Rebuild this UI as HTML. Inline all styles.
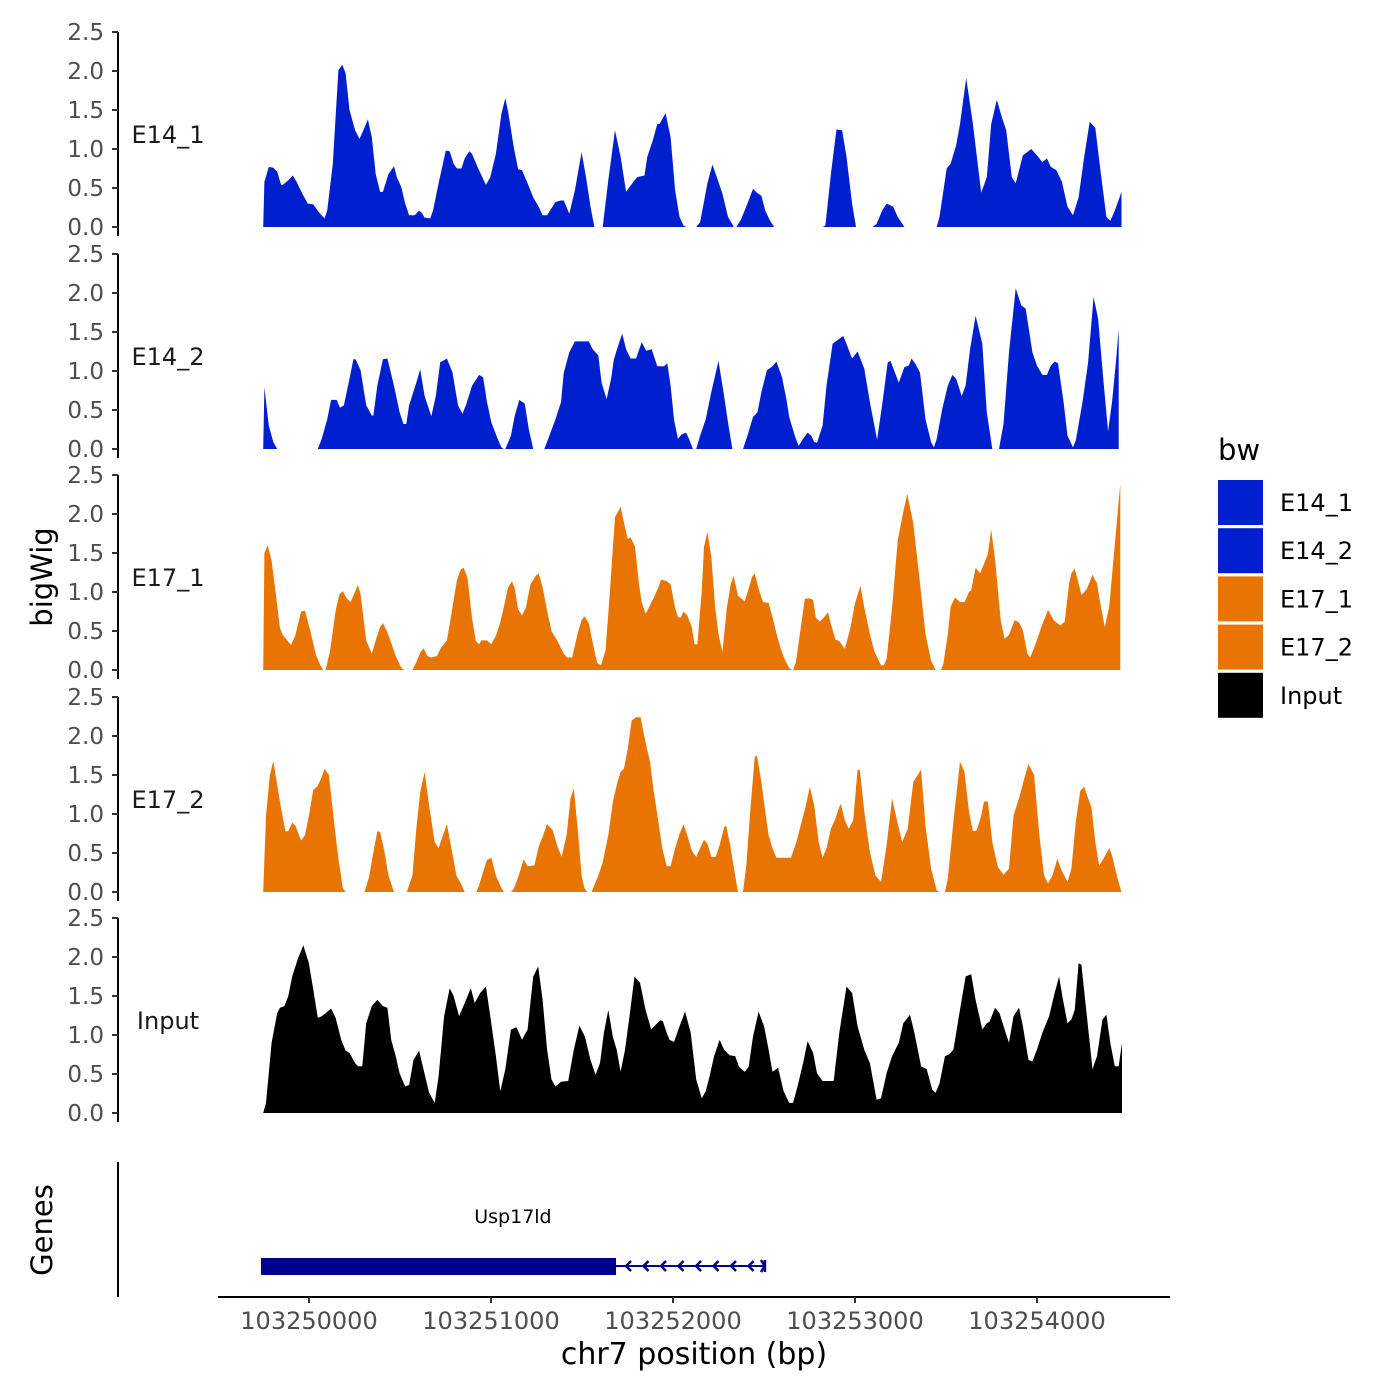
<!DOCTYPE html>
<html><head><meta charset="utf-8"><style>
html,body{margin:0;padding:0;background:#fff;}
svg{display:block;font-family:"DejaVu Sans","Liberation Sans",sans-serif;}
</style></head><body>
<svg id="chart" width="1400" height="1400" viewBox="0 0 1400 1400" xmlns="http://www.w3.org/2000/svg">
<rect width="1400" height="1400" fill="#fff"/>
<g id="panels"></g>
<g id="genes"></g>
<g id="xaxis"></g>
<text x="52" y="577" font-size="29" text-anchor="middle" transform="rotate(-90 52 577)">bigWig</text>
<text x="52" y="1230" font-size="29" text-anchor="middle" transform="rotate(-90 52 1230)">Genes</text>
<g id="legend"></g>
</svg>
<script>
// ---- data ----
const regionStart = 103249718; // bp of bin 0
const binSize = 3.058;         // bp per bin
const trackNames = ["E14_1","E14_2","E17_1","E17_2","Input"];
const yTicks = [0,0.5,1,1.5,2,2.5];
const xTicks = [103250000,103251000,103252000,103253000,103254000];
const gene = {name:"Usp17ld", start:103249736, thickEnd:103251687, end:103252505};

const e14_1 = [[10,0],[12,.58],[20,.77],[28,.76],[35,.71],[42,.54],[45,.54],[55,.60],[63,.66],[70,.58],[80,.43],[90,.30],[100,.29],[110,.19],[120,.11],[125,.21],[135,.81],[145,2.01],[152,2.08],[158,1.97],[165,1.50],[175,1.24],[183,1.13],[190,1.24],[198,1.38],[205,1.15],[212,.68],[220,.45],[225,.45],[235,.68],[245,.78],[250,.64],[258,.51],[265,.30],[272,.15],[282,.15],[290,.21],[295,.18],[300,.12],[310,.11],[315,.21],[325,.56],[338,.98],[345,.97],[352,.81],[358,.75],[366,.75],[372,.88],[380,.97],[385,.94],[395,.77],[410,.54],[418,.64],[428,.94],[438,1.45],[445,1.65],[450,1.48],[460,1.03],[468,.74],[475,.73],[485,.56],[495,.38],[505,.26],[512,.15],[520,.15],[528,.24],[535,.32],[545,.34],[550,.34],[560,.17],[570,.47],[582,.96],[590,.64],[598,.26],[605,0],null,
[620,0],[630,.60],[642,1.24],[652,.90],[662,.45],[675,.58],[682,.64],[695,.66],[700,.90],[710,1.11],[718,1.32],[722,1.32],[733,1.46],[742,1.15],[750,.47],[758,.13],[765,.02],[770,0],null,
[788,0],[795,.06],[808,.56],[817,.80],[825,.64],[835,.43],[845,.13],[855,.01],null,
[860,0],[868,.09],[880,.30],[890,.49],[897,.44],[905,.40],[912,.21],[920,.09],[928,0],null,
[1015,0],[1020,.02],[1030,.68],[1040,1.25],[1050,1.24],[1058,.90],[1068,.30],[1075,0],null,
[1105,0],[1112,.04],[1122,.21],[1130,.30],[1142,.26],[1150,.13],[1162,0],null,
[1220,0],[1225,.13],[1238,.75],[1245,.81],[1255,1.05],[1262,1.32],[1273,1.91],[1285,1.32],[1300,.44],[1310,.64],[1318,1.32],[1328,1.63],[1338,1.39],[1345,1.24],[1355,.64],[1362,.56],[1375,.92],[1390,1.00],[1400,.92],[1410,.83],[1418,.88],[1425,.77],[1435,.73],[1445,.58],[1455,.26],[1465,.15],[1475,.38],[1485,.90],[1495,1.35],[1505,1.27],[1515,.68],[1525,.13],[1532,.08],[1540,.21],[1552,.45]];

const e14_2 = [[10,0],[12,.79],[20,.30],[28,.09],[35,0],null,
[108,0],[115,.13],[125,.38],[132,.63],[142,.63],[148,.53],[155,.56],[165,.90],[172,1.15],[176,1.15],[185,1.01],[195,.56],[205,.43],[208,.43],[215,.81],[225,1.15],[233,1.16],[245,.81],[255,.47],[262,.32],[267,.32],[272,.56],[285,.85],[292,1.02],[300,.68],[312,.42],[320,.68],[328,1.11],[340,1.16],[350,.98],[360,.56],[368,.45],[375,.58],[385,.81],[398,.95],[405,.92],[412,.60],[420,.34],[430,.15],[438,.02],[442,0],null,
[445,0],[455,.17],[462,.43],[470,.63],[480,.58],[487,.26],[495,0],null,
[515,0],[522,.13],[535,.38],[545,.60],[550,.98],[560,1.24],[570,1.38],[595,1.38],[602,1.28],[612,1.20],[618,.85],[627,.64],[635,.90],[640,1.15],[647,1.31],[655,1.48],[662,1.28],[670,1.16],[680,1.16],[690,1.37],[698,1.26],[708,1.28],[718,1.06],[730,1.06],[736,1.10],[742,.81],[748,.38],[755,.13],[762,.19],[770,.21],[775,.13],[782,0],null,
[788,0],[795,.17],[805,.38],[815,.73],[828,1.13],[838,.68],[845,.34],[853,0],null,
[872,0],[880,.17],[890,.41],[898,.47],[905,.73],[915,1.01],[925,1.06],[932,1.12],[942,.92],[950,.64],[955,.41],[965,.17],[972,.04],[980,.13],[988,.21],[995,.17],[1000,.09],[1005,.08],[1015,.30],[1022,.81],[1033,1.35],[1052,1.45],[1060,1.31],[1068,1.16],[1078,1.25],[1090,1.03],[1100,.60],[1113,.12],[1122,.56],[1132,1.11],[1137,1.13],[1152,.85],[1162,1.05],[1170,1.07],[1175,1.16],[1182,1.09],[1190,.98],[1200,.38],[1210,.09],[1215,.02],[1220,.13],[1230,.51],[1240,.81],[1248,.95],[1255,.90],[1265,.68],[1272,.81],[1280,1.28],[1290,1.71],[1302,1.35],[1310,.47],[1320,0],null,
[1332,0],[1340,.32],[1350,1.24],[1362,2.06],[1372,1.84],[1380,1.80],[1392,1.24],[1400,1.07],[1410,.95],[1418,.95],[1425,1.07],[1432,1.12],[1438,1.10],[1448,.60],[1455,.17],[1465,.02],[1470,.11],[1482,.60],[1492,1.11],[1502,1.95],[1510,1.67],[1520,.85],[1528,.23],[1535,.60],[1542,1.11],[1547,1.54]];

const e17_1 = [[10,0],[12,1.50],[18,1.60],[25,1.40],[32,1.01],[40,.54],[45,.45],[52,.39],[60,.32],[68,.45],[78,.75],[85,.76],[95,.49],[105,.19],[112,.07],[118,0],null,
[122,0],[130,.24],[140,.76],[147,.97],[153,1.01],[160,.92],[167,.87],[180,1.09],[185,.97],[195,.38],[205,.21],[212,.38],[220,.55],[225,.60],[232,.50],[240,.35],[248,.18],[258,.03],[263,0],null,
[278,0],[285,.10],[292,.22],[298,.28],[305,.18],[312,.16],[322,.18],[330,.29],[340,.38],[348,.72],[358,1.15],[365,1.29],[370,1.31],[377,1.18],[385,.67],[392,.37],[398,.33],[402,.38],[412,.38],[420,.33],[428,.44],[435,.59],[442,.80],[450,1.06],[457,1.14],[462,1.04],[468,.78],[475,.70],[482,.80],[490,1.10],[500,1.21],[505,1.24],[512,1.06],[520,.76],[528,.50],[538,.38],[550,.21],[556,.16],[565,.16],[575,.47],[582,.64],[587,.69],[595,.60],[602,.35],[610,.09],[617,.06],[625,.25],[630,.72],[635,1.23],[642,1.96],[652,2.09],[660,1.83],[665,1.68],[670,1.70],[678,1.58],[685,1.11],[690,.87],[697,.72],[705,.83],[712,.93],[720,1.06],[725,1.16],[735,1.14],[742,1.10],[750,.80],[755,.68],[760,.67],[765,.75],[772,.70],[780,.55],[785,.33],[790,.33],[798,1.02],[802,1.58],[808,1.77],[815,1.45],[822,.80],[828,.46],[835,.23],[843,.80],[850,1.10],[855,1.21],[863,.95],[870,.91],[875,.88],[882,1.04],[888,1.19],[893,1.24],[900,1.04],[908,.87],[918,.86],[925,.68],[932,.47],[940,.27],[948,.12],[955,.03],[960,0],null,
[962,0],[967,.10],[975,.50],[983,.91],[990,.92],[998,.90],[1003,.67],[1010,.62],[1018,.68],[1025,.74],[1030,.59],[1038,.39],[1045,.37],[1055,.27],[1065,.54],[1073,.85],[1083,1.08],[1090,.80],[1100,.46],[1108,.24],[1120,.06],[1125,.06],[1130,.14],[1140,.80],[1150,1.66],[1158,1.96],[1167,2.26],[1178,1.88],[1188,1.24],[1200,.46],[1210,.12],[1218,0],null,
[1228,0],[1232,.08],[1240,.46],[1245,.81],[1253,.93],[1262,.87],[1270,.87],[1278,1.00],[1282,1.02],[1290,1.31],[1298,1.24],[1305,1.36],[1312,1.49],[1318,1.80],[1325,1.41],[1335,.64],[1342,.40],[1350,.45],[1360,.64],[1368,.61],[1375,.51],[1383,.21],[1388,.16],[1398,.34],[1408,.55],[1420,.77],[1430,.64],[1442,.57],[1450,.62],[1458,1.11],[1462,1.24],[1468,1.30],[1475,1.11],[1480,.96],[1490,1.04],[1500,1.22],[1508,1.11],[1515,.81],[1522,.55],[1530,.81],[1538,1.45],[1550,2.39]];

const e17_2 = [[10,0],[15,.98],[22,1.50],[28,1.68],[35,1.37],[42,1.07],[50,.78],[55,.78],[62,.89],[68,.85],[78,.66],[85,.73],[92,.98],[100,1.31],[107,1.35],[115,1.47],[120,1.58],[128,1.50],[138,.85],[145,.43],[153,.05],[158,0],null,
[192,0],[200,.19],[208,.51],[215,.78],[220,.77],[228,.51],[235,.21],[245,0],null,
[268,0],[278,.21],[285,.81],[292,1.28],[300,1.54],[308,1.11],[318,.64],[325,.56],[333,.73],[340,.87],[348,.56],[357,.21],[365,.11],[372,0],null,
[393,0],[398,.09],[405,.26],[412,.41],[420,.44],[428,.21],[438,.05],[443,0],null,
[455,0],[460,.04],[468,.19],[478,.42],[485,.33],[497,.34],[505,.58],[513,.73],[520,.87],[530,.79],[538,.60],[546,.45],[555,.73],[562,1.20],[568,1.33],[575,.81],[582,.21],[587,.05],[592,0],null,
[600,0],[605,.09],[612,.21],[620,.38],[630,.73],[638,1.15],[645,1.37],[652,1.54],[658,1.58],[665,1.84],[672,2.20],[680,2.24],[688,2.24],[692,2.09],[698,1.88],[705,1.67],[712,1.28],[720,.90],[727,.56],[735,.33],[742,.33],[750,.56],[758,.74],[765,.87],[772,.73],[780,.53],[788,.45],[795,.56],[802,.67],[808,.62],[815,.45],[823,.45],[830,.60],[838,.83],[842,.85],[850,.56],[858,.21],[863,0],null,
[872,0],[878,.34],[885,1.03],[893,1.73],[897,1.75],[905,1.41],[912,1.03],[918,.73],[925,.56],[932,.44],[958,.44],[968,.64],[978,.92],[985,1.11],[992,1.35],[1000,1.11],[1008,.64],[1015,.44],[1022,.56],[1030,.81],[1038,.94],[1045,1.09],[1048,1.13],[1055,.92],[1062,.81],[1070,.92],[1078,1.57],[1082,1.56],[1090,1.03],[1100,.51],[1110,.21],[1120,.13],[1130,.60],[1140,1.20],[1148,.94],[1158,.64],[1168,.81],[1178,1.41],[1192,1.57],[1200,.85],[1210,.30],[1220,.02],[1226,0],null,
[1235,0],[1240,.17],[1250,.90],[1262,1.67],[1270,1.54],[1278,1.03],[1285,.78],[1292,.79],[1300,.98],[1305,1.16],[1312,1.16],[1320,.64],[1330,.32],[1340,.22],[1350,.30],[1358,.98],[1368,1.20],[1378,1.47],[1385,1.64],[1395,1.50],[1405,.70],[1413,.21],[1420,.11],[1428,.21],[1437,.43],[1443,.30],[1455,.13],[1462,.30],[1470,.90],[1478,1.30],[1485,1.35],[1492,1.20],[1498,1.09],[1505,.64],[1512,.34],[1520,.43],[1530,.56],[1535,.47],[1545,.17],[1552,0]];

const input = [[10,0],[15,.13],[25,.90],[35,1.28],[40,1.35],[48,1.37],[55,1.50],[62,1.75],[72,1.97],[82,2.15],[92,1.92],[100,1.58],[108,1.22],[115,1.24],[122,1.28],[132,1.34],[140,1.22],[150,.94],[158,.80],[165,.77],[175,.64],[180,.60],[188,.60],[195,1.15],[205,1.37],[215,1.45],[225,1.37],[233,1.35],[240,.94],[248,.73],[255,.51],[265,.34],[272,.36],[280,.68],[290,.80],[298,.56],[308,.26],[318,.13],[325,.47],[335,1.24],[345,1.60],[352,1.50],[362,1.24],[372,1.41],[383,1.60],[390,1.41],[400,1.54],[410,1.62],[418,1.24],[428,.73],[436,.28],[445,.56],[455,1.07],[465,1.10],[475,.94],[485,1.07],[495,1.75],[504,1.88],[512,1.45],[520,.81],[528,.43],[535,.34],[545,.40],[558,.41],[568,.81],[578,1.12],[588,.98],[598,.68],[607,.49],[615,.64],[622,1.03],[630,1.32],[638,.98],[645,.81],[652,.53],[660,.81],[668,1.24],[677,1.75],[687,1.67],[697,1.32],[707,1.07],[715,1.13],[723,1.19],[728,1.18],[735,1.03],[740,.94],[748,.91],[758,1.11],[768,1.30],[778,1.03],[788,.43],[798,.19],[805,.28],[812,.47],[820,.73],[830,.94],[838,.81],[848,.74],[858,.73],[865,.59],[875,.53],[882,.59],[890,.98],[900,1.30],[910,1.11],[918,.81],[925,.53],[935,.58],[945,.28],[955,.13],[962,.13],[970,.34],[980,.64],[988,.92],[998,.77],[1005,.51],[1015,.41],[1035,.41],[1045,1.03],[1058,1.62],[1068,1.54],[1078,1.11],[1090,.81],[1100,.64],[1112,.17],[1120,.19],[1130,.51],[1140,.73],[1152,.90],[1160,1.15],[1172,1.26],[1180,1.03],[1192,.60],[1202,.56],[1212,.30],[1218,.26],[1225,.38],[1235,.73],[1242,.75],[1250,.81],[1260,1.24],[1272,1.75],[1282,1.78],[1290,1.45],[1302,1.07],[1310,1.15],[1315,1.17],[1325,1.35],[1333,1.28],[1342,1.07],[1350,.90],[1358,1.24],[1368,1.35],[1375,1.11],[1385,.68],[1392,.66],[1400,.81],[1410,1.03],[1422,1.24],[1432,1.54],[1440,1.75],[1447,1.45],[1455,1.15],[1462,1.20],[1468,1.32],[1475,1.92],[1480,1.90],[1490,1.24],[1500,.56],[1508,.73],[1518,1.20],[1525,1.26],[1532,.90],[1540,.60],[1547,.60],[1553,.90]];

const trackData = [e14_1,e14_2,e17_1,e17_2,input];
const trackColors = ["#0020D0","#0020D0","#E87503","#E87503","#000000"];

// ---- scales ----
const NS="http://www.w3.org/2000/svg";
function xScale(bp){ return 309 + (bp-103250000)*0.182; }
function binToBp(b){ return regionStart + b*binSize; }
const zeroY=[227,449,670,892,1113];
function yScale(panel,v){ return zeroY[panel] - v*78; }
function mk(tag,attrs,parent){ const e=document.createElementNS(NS,tag); for(const k in attrs) e.setAttribute(k,attrs[k]); parent.appendChild(e); return e; }

const panels=document.getElementById('panels');
trackData.forEach((data,p)=>{
  const g=mk('g',{},panels);
  
  
  const ax=mk('line',{x1:118,x2:118,y1:yScale(p,2.5),y2:zeroY[p]+9,stroke:'#000','stroke-width':2},g);
  
  
  yTicks.forEach(t=>{
    const y=yScale(p,t);
    const tk=mk('line',{x1:112,x2:118,y1:y,y2:y,stroke:'#333','stroke-width':2},g);
    
    
    const tl=mk('text',{x:104,y:y+8,'font-size':23,fill:'#4D4D4D','text-anchor':'end'},g);
    tl.textContent=t.toFixed(1);
    
    
  });
  const lab=mk('text',{x:168,y:zeroY[p]-84,'font-size':24,fill:'#1a1a1a','text-anchor':'middle'},g);
  lab.textContent=trackNames[p];
  
  
  let segs=[],cur=[];
  data.forEach(d=>{ if(d===null){ if(cur.length) segs.push(cur); cur=[]; } else cur.push(d); });
  if(cur.length) segs.push(cur);
  segs.forEach(s=>{
    const z=yScale(p,0);
    let dstr='M'+xScale(binToBp(s[0][0])).toFixed(1)+','+z;
    s.forEach(([b,v])=>{ dstr+=' L'+xScale(binToBp(b)).toFixed(1)+','+yScale(p,v).toFixed(1); });
    dstr+=' L'+xScale(binToBp(s[s.length-1][0])).toFixed(1)+','+z+' Z';
    const a=mk('path',{d:dstr,fill:trackColors[p]},g);
    
    
  });
});

// genes
const gg=document.getElementById('genes');
const gl=mk('line',{x1:118,x2:118,y1:1162,y2:1297,stroke:'#000','stroke-width':2},gg);


const gx0=xScale(gene.start), gx1=xScale(gene.thickEnd), gx2=xScale(gene.end);
const thin=mk('line',{x1:gx1,x2:gx2,y1:1266,y2:1266,stroke:'#00008B','stroke-width':2},gg);


for(let x=gx1+10;x<gx2-4;x+=17.5){
  const c=mk('path',{d:`M${x+5},1261 L${x},1266 L${x+5},1271`,stroke:'#00008B','stroke-width':2.5,fill:'none'},gg);
  
  
}
const endc=mk('path',{d:`M${gx2-4},1260 L${gx2},1266 L${gx2-4},1272 M${gx2},1260 L${gx2},1272`,stroke:'#00008B','stroke-width':2.5,fill:'none'},gg);


const box=mk('rect',{x:gx0,y:1258,width:gx1-gx0,height:17,fill:'#00008B'},gg);


const gt=mk('text',{x:(gx0+gx2)/2,y:1223,'font-size':19,fill:'#000','text-anchor':'middle'},gg);
gt.textContent=gene.name;



// x axis
const xg=document.getElementById('xaxis');
const xl=mk('line',{x1:218,x2:1170,y1:1297,y2:1297,stroke:'#000','stroke-width':2},xg);


xTicks.forEach(t=>{
  const x=xScale(t);
  const tk=mk('line',{x1:x,x2:x,y1:1297,y2:1303,stroke:'#333','stroke-width':2},xg);
  
  
  const tl=mk('text',{x:x,y:1329,'font-size':24,fill:'#4D4D4D','text-anchor':'middle'},xg);
  tl.textContent=String(t);
  
  
});
const xt=mk('text',{x:694,y:1364,'font-size':30,fill:'#000','text-anchor':'middle'},xg);
xt.textContent='chr7 position (bp)';



// legend
const lg=document.getElementById('legend');
const lt=mk('text',{x:1218,y:460,'font-size':29,fill:'#000'},lg);
lt.textContent='bw';


trackNames.forEach((n,i)=>{
  const y=480+i*48.2;
  const r=mk('rect',{x:1218,y:y,width:45,height:45,fill:trackColors[i]},lg);
  
  
  const t=mk('text',{x:1280,y:y+31,'font-size':24,fill:'#000'},lg);
  t.textContent=n;
  
  
});
</script>
</body></html>
